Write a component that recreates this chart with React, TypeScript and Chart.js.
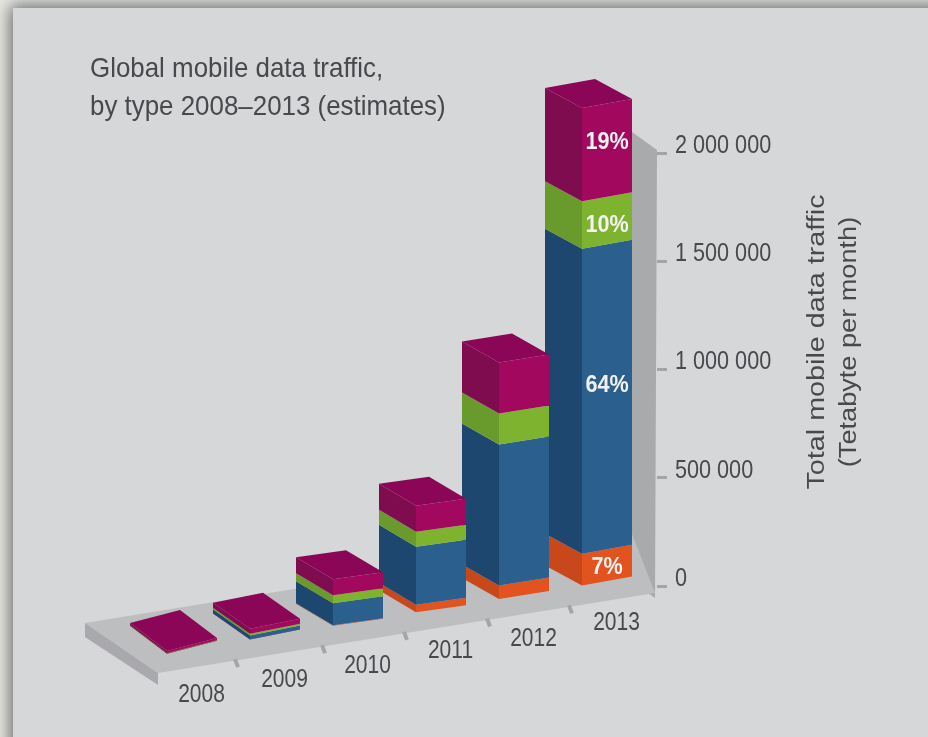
import React, { useEffect, useRef } from "react";
import { Chart, registerables } from "chart.js";

Chart.register(...registerables);

const years = ["2008", "2009", "2010", "2011", "2012", "2013"];
const seriesBase = [1000, 5000, 9000, 42000, 69000, 154000];
const seriesBlue = [2000, 18000, 102000, 268000, 651000, 1408000];
const seriesGreen = [2000, 9000, 37000, 69000, 143000, 220000];
const seriesMagenta = [9000, 23000, 74000, 120000, 236000, 430000];
const shares2013 = ["7%", "64%", "10%", "19%"];
const titleLines = ["Global mobile data traffic,", "by type 2008–2013 (estimates)"];
const axisTitleLines = ["Total mobile data traffic", "(Tetabyte per month)"];

const FONT = '"Liberation Sans", sans-serif';
const TEXT = "#48494c";

// Box projection: each year sits further down the receding floor.
const CORNER_SHIFT = -33.5;
const LEFT_RUN = 37;
const RIGHT_RUN = 50;
const FLOOR_STEP = 13.4;
const FLOOR_START = 1;
const LEFT_RISE = [28, 26, 22, 22, 21, 20];
const RIGHT_RISE = [13, 10, 7, 7, 8, 9];
const YEAR_LABEL_Y = [695, 680, 666, 651, 639, 623];
const FLOOR_NOTCH_X = [238, 325, 407, 490, 572];
const SHARE_NUDGE = [2, -11, 5, -8];

const poly = (ctx: CanvasRenderingContext2D, color: string, pts: number[][]) => {
  ctx.fillStyle = color;
  ctx.beginPath();
  pts.forEach(([x, y], i) => (i ? ctx.lineTo(x, y) : ctx.moveTo(x, y)));
  ctx.closePath();
  ctx.fill();
};

// Text squeezed or widened along its own direction to suit the condensed typeface
const squeezed = (ctx: CanvasRenderingContext2D, text: string, x: number, y: number, sx: number) => {
  ctx.save();
  ctx.translate(x, y);
  ctx.scale(sx, 1);
  ctx.fillText(text, 0, 0);
  ctx.restore();
};

const stagePlugin = {
  id: "stage",
  beforeDraw(chart: any) {
    const ctx: CanvasRenderingContext2D = chart.ctx;
    ctx.save();
    // Back wall carrying the value axis
    poly(ctx, "#a9aaac", [[632, 132], [657, 150], [655, 598], [632, 582]]);
    // Floor plate with its left edge and the year notches
    poly(ctx, "#bdbebf", [[85, 623], [158, 673], [655, 593], [632, 534]]);
    poly(ctx, "#a9a9ad", [[85, 623], [85, 637], [158, 685], [158, 673]]);
    ctx.strokeStyle = "#a4a5a7";
    ctx.lineWidth = 4;
    FLOOR_NOTCH_X.forEach((x) => {
      const y = 673 - ((x - 158) * 80) / 497;
      ctx.beginPath();
      ctx.moveTo(x - 3, y - 1);
      ctx.lineTo(x, y + 7);
      ctx.stroke();
    });
    ctx.restore();
  },
  beforeDatasetsDraw(chart: any) {
    const ctx: CanvasRenderingContext2D = chart.ctx;
    const count = chart.data.datasets.length;
    ctx.save();
    // Back boxes first, so nearer years overlap them
    for (let i = years.length - 1; i >= 0; i--) {
      const drop = FLOOR_START + (years.length - 1 - i) * FLOOR_STEP;
      const lr = LEFT_RISE[i];
      const rr = RIGHT_RISE[i];
      for (let d = 0; d < count; d++) {
        const ds = chart.data.datasets[d];
        const el = chart.getDatasetMeta(d).data[i];
        const xc = el.x + CORNER_SHIFT;
        const top = el.y + drop;
        const bottom = el.base + drop;
        poly(ctx, ds.sideColor, [
          [xc - LEFT_RUN, top - lr], [xc, top], [xc, bottom], [xc - LEFT_RUN, bottom - lr],
        ]);
        poly(ctx, ds.backgroundColor, [
          [xc, top], [xc + RIGHT_RUN, top - rr], [xc + RIGHT_RUN, bottom - rr], [xc, bottom],
        ]);
        if (d === count - 1) {
          poly(ctx, ds.capColor, [
            [xc, top], [xc - LEFT_RUN, top - lr], [xc + RIGHT_RUN - LEFT_RUN, top - lr - rr], [xc + RIGHT_RUN, top - rr],
          ]);
        }
      }
    }

    // Share labels on the 2013 column
    const last = years.length - 1;
    ctx.fillStyle = "#f4f1f2";
    ctx.font = `bold 24px ${FONT}`;
    ctx.textAlign = "center";
    ctx.textBaseline = "middle";
    shares2013.forEach((text, d) => {
      const el = chart.getDatasetMeta(d).data[last];
      const xc = el.x + CORNER_SHIFT;
      const mid = (el.y + el.base) / 2 + FLOOR_START - RIGHT_RISE[last] / 2;
      squeezed(ctx, text, xc + 25, mid + SHARE_NUDGE[d], 0.9);
    });
    ctx.restore();
    return false;
  },
  afterDraw(chart: any) {
    const ctx: CanvasRenderingContext2D = chart.ctx;
    const x = chart.scales.x;
    const y = chart.scales.y;
    ctx.save();
    ctx.fillStyle = TEXT;
    ctx.textBaseline = "middle";

    // Heading
    ctx.textAlign = "left";
    ctx.font = `28px ${FONT}`;
    titleLines.forEach((line, i) => squeezed(ctx, line, 90, 69 + i * 38, 0.925));

    // Value labels beside the axis ticks
    ctx.font = `25px ${FONT}`;
    y.ticks.forEach((tick: any) => squeezed(ctx, tick.label, 675, y.getPixelForValue(tick.value) - 7, 0.865));

    // Year labels follow the front edge of the floor
    ctx.textAlign = "center";
    years.forEach((label, i) => squeezed(ctx, label, x.getPixelForValue(i) + 1, YEAR_LABEL_Y[i], 0.84));

    // Value axis title, reading upwards
    ctx.translate(834, 342);
    ctx.rotate(-Math.PI / 2);
    ctx.font = `23px ${FONT}`;
    axisTitleLines.forEach((line, i) => squeezed(ctx, line, 0, -16 + i * 32, i ? 1.18 : 1.25));
    ctx.restore();
  },
};

export default function App() {
  const ref = useRef<HTMLCanvasElement>(null);

  useEffect(() => {
    const chart = new Chart(ref.current as HTMLCanvasElement, {
      type: "bar",
      plugins: [stagePlugin],
      data: {
        labels: years,
        datasets: [
          { label: "Base", data: seriesBase, backgroundColor: "#e2531f", sideColor: "#c8481c" },
          { label: "Blue", data: seriesBlue, backgroundColor: "#2b5f8e", sideColor: "#1e476f" },
          { label: "Green", data: seriesGreen, backgroundColor: "#7db32f", sideColor: "#689a2c" },
          { label: "Magenta", data: seriesMagenta, backgroundColor: "#a1085e", sideColor: "#7f0c4e", capColor: "#8c0657" },
        ] as any,
      },
      options: {
        responsive: false,
        animation: false,
        layout: { padding: { left: 159, top: 153, bottom: 143, right: 0 } },
        plugins: { legend: { display: false }, tooltip: { enabled: false }, title: { display: false } },
        scales: {
          x: {
            stacked: true,
            grid: { display: false },
            border: { display: false },
            ticks: { display: false },
          },
          y: {
            stacked: true,
            position: "right",
            min: 0,
            max: 2000000,
            afterFit: (scale: any) => {
              scale.width = 271;
            },
            grid: { drawOnChartArea: false, color: "#a4a5a7", lineWidth: 3, tickLength: 10 },
            border: { display: false },
            ticks: {
              display: false,
              stepSize: 500000,
              callback: (v: any) => String(v).replace(/\B(?=(\d{3})+$)/g, " "),
            },
          },
        },
      } as any,
    });
    return () => chart.destroy();
  }, []);

  return (
    <div style={{ position: "absolute", left: 0, top: 0, width: 928, height: 737, overflow: "hidden", background: "#e9eae4" }}>
      <div
        style={{
          position: "absolute",
          left: 13,
          top: 8,
          width: 930,
          height: 745,
          background: "#d6d7d9",
          boxShadow: "0 0 16px 3px #6a6a6a",
        }}
      />
      <canvas ref={ref} width={928} height={737} style={{ position: "absolute", left: 0, top: 0 }} />
    </div>
  );
}
